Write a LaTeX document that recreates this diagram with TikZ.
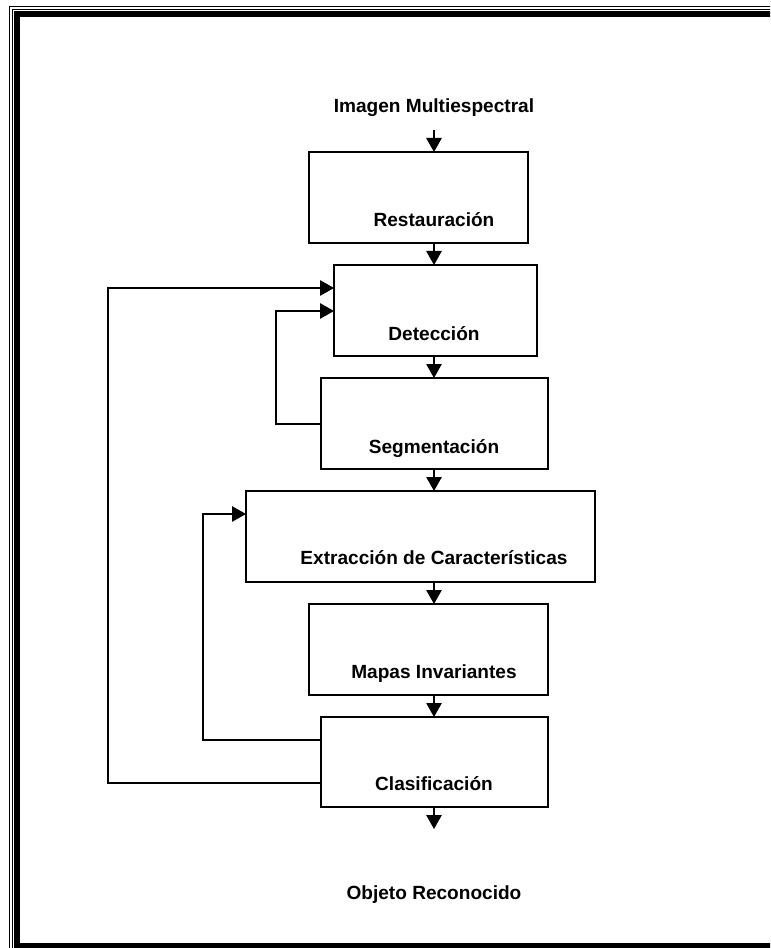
\documentclass[tikz,border=0pt]{standalone}
\usepackage{fontspec}
\setmainfont{Liberation Sans}
\usetikzlibrary{arrows.meta}
\begin{document}
\begin{tikzpicture}[x=0.75pt,y=-0.75pt,
  box/.style={draw=black, line width=1.1pt, inner sep=0pt, outer sep=0pt, anchor=north west, minimum height=68.25pt},
  lbl/.style={anchor=base, inner sep=0pt, font=\fontsize{14.3}{17}\selectfont\bfseries},
  arr/.style={line width=1.3pt, -{Triangle[width=11.5pt,length=10.5pt]}},
  ln/.style={line width=1.3pt}]
\useasboundingbox (0,0) rectangle (770,948);
\begin{scope}
\clip (0,0) rectangle (770,948);
% page border
\draw[line width=0.8pt] (9.5,960) -- (9.5,6.5) -- (780,6.5);
\draw[line width=0.8pt] (12.5,960) -- (12.5,9.5) -- (780,9.5);
\draw[line width=4.5pt] (17,960) -- (17,14.5) -- (780,14.5);
\draw[line width=4.5pt] (14,945.5) -- (780,945.5);
\end{scope}
% axis
\coordinate (ax) at (434,0);
% texts
\node[lbl] (in) at (434,113) {Imagen Multiespectral};
\node[lbl] (out) at (434,899) {Objeto Reconocido};
% boxes
\node[box, minimum width=164.25pt] (rest) at (309,152) {};
\node[box, minimum width=152.25pt] (det) at (334,265) {};
\node[box, minimum width=170.25pt] (seg) at (321,378) {};
\node[box, minimum width=261.75pt] (ext) at (246,491) {};
\node[box, minimum width=179.25pt] (map) at (309,604) {};
\node[box, minimum width=170.25pt, minimum height=67.5pt] (cla) at (321,717) {};
% labels
\node[lbl] (lrest) at (434,227) {Restauración};
\node[lbl] (ldet) at (434,340) {Detección};
\node[lbl] (lseg) at (434,453) {Segmentación};
\node[lbl] (lext) at (434,564) {Extracción de Características};
\node[lbl] (lmap) at (434,678) {Mapas Invariantes};
\node[lbl] (lcla) at (434,790) {Clasificación};
% main flow
\coordinate (start) at (434,130);
\coordinate (end) at (434,829);
\draw[arr] (start) -- (rest.north -| ax);
\draw[arr] (rest.south -| ax) -- (det.north -| ax);
\draw[arr] (det.south -| ax) -- (seg.north -| ax);
\draw[arr] (seg.south -| ax) -- (ext.north -| ax);
\draw[arr] (ext.south -| ax) -- (map.north -| ax);
\draw[arr] (map.south -| ax) -- (cla.north -| ax);
\draw[arr] (cla.south -| ax) -- (end);
% feedback loops
\coordinate (a1) at (276,424);
\coordinate (a2) at (276,311);
\draw[arr] (seg.west |- a1) -- (a1) -- (a2) -- (det.west |- a2);
\coordinate (b1) at (203,740);
\coordinate (b2) at (203,514);
\draw[arr] (cla.west |- b1) -- (b1) -- (b2) -- (ext.west |- b2);
\coordinate (c1) at (108,783);
\coordinate (c2) at (108,288);
\draw[arr] (cla.west |- c1) -- (c1) -- (c2) -- (det.west |- c2);
\end{tikzpicture}
\end{document}
